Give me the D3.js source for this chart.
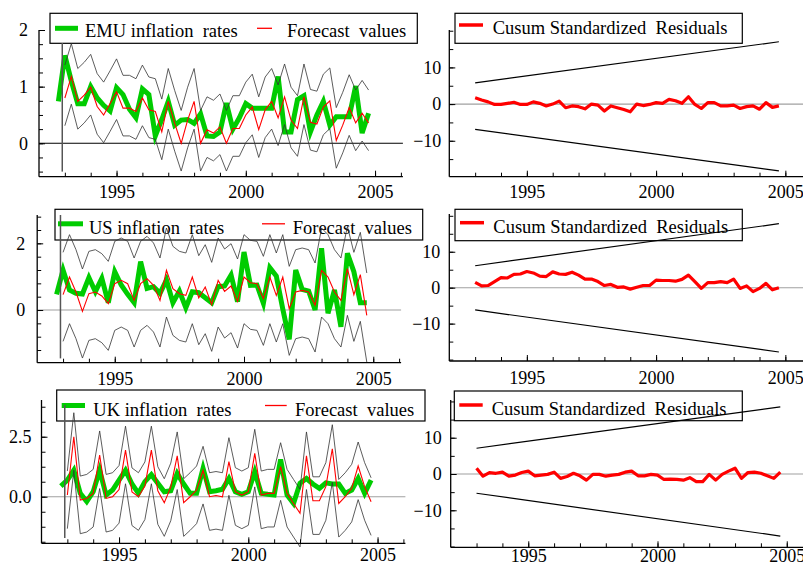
<!DOCTYPE html>
<html>
<head>
<meta charset="utf-8">
<script src="https://cdn.jsdelivr.net/npm/d3@7"></script>
<style>
  body { margin: 0; background: #fff; }
  svg { display: block; }
</style>
</head>
<body>
<div id="chart"></div>
<script>
"use strict";

// Quarterly sample, first actual value is 1992Q4, forecasts start 1993Q1
const firstQuarter = 1992.75;
const xTicksMajor = [1995, 2000, 2005];
const xTicksMinor = d3.range(1993, 2007);

const emuActual = [0.74, 1.55, 1.1, 0.7, 0.7, 1.0, 0.8, 0.67, 0.57, 0.98,
  0.86, 0.6, 0.45, 0.96, 0.86, 0.13, 0.42, 0.74, 0.32, 0.41,
  0.42, 0.35, 0.52, 0.13, 0.12, 0.2, 0.71, 0.25, 0.45, 0.7,
  0.62, 0.62, 0.62, 0.62, 1.18, 0.2, 0.2, 0.77, 0.84, 0.2,
  0.5, 0.74, 0.32, 0.47, 0.47, 0.47, 1.01, 0.18, 0.53];
const emuForecast = [0.8, 1.18, 0.74, 0.85, 0.99, 0.65, 0.5, 0.7, 0.91, 0.62,
  0.62, 0.56, 0.8, 0.59, 0.56, 0.2, 0.74, 0.35, 0.0, 0.41,
  0.74, 0.0, 0.24, 0.18, 0.29, 0.0, 0.26, 0.26, 0.5, 0.64,
  0.24, 0.59, 0.74, 0.45, 0.82, 0.41, 0.26, 0.82, 0.37, 0.34,
  0.64, 0.75, 0.05, 0.32, 0.63, 0.36, 0.53, 0.36];
const emuBandUp = 0.58, emuBandDown = 0.49;

const usActual = [0.47, 1.2, 0.6, 0.5, 0.48, 0.97, 0.55, 0.95, 0.22, 1.15,
  0.75, 0.47, 0.22, 1.45, 0.65, 0.7, 0.5, 0.9, 0.22, 0.57,
  0.07, 0.55, 0.52, 0.37, 0.22, 0.7, 0.72, 1.05, 0.25, 1.74,
  0.74, 0.75, 0.2, 1.27, 1.02, 0.03, -0.88, 1.2, 0.62, 0.57,
  0.0, 1.85, -0.1, 0.6, -0.5, 1.7, 1.15, 0.22, 0.22];
const usForecast = [0.46, 0.99, 0.54, -0.04, 0.49, 0.54, 0.42, 0.19, 0.79, 0.89,
  0.79, 0.29, 0.79, 0.94, 0.74, 0.29, 1.19, 0.64, 0.49, 0.44,
  0.99, 0.36, 0.69, 0.16, 0.89, 0.56, 0.72, 0.26, 0.99, 0.82,
  0.79, 0.34, 0.99, 0.44, 0.99, 0.04, 0.54, 0.59, 0.54, 0.14,
  1.19, 0.99, 0.54, 0.29, 1.24, 0.46, 1.06, -0.16];
const usBandUp = 1.27, usBandDown = 1.4;

const ukActual = [0.44, 0.69, 1.1, 0.14, -0.2, 0.21, 1.1, 0.07, 0.28, 0.69,
  1.1, 0.53, 0.14, 0.63, 0.92, 0.56, 0.21, 0.25, 0.97, 0.53,
  0.14, 0.14, 1.18, 0.21, 0.25, 0.31, 0.76, 0.21, 0.1, 0.21,
  1.04, 0.14, 0.1, 0.07, 1.55, 0.07, -0.28, 0.56, 0.76, 0.53,
  0.35, 0.58, 0.53, 0.53, 0.14, 0.28, 0.76, 0.14, 0.69];
const ukForecast = [0.07, 2.5, -0.14, -0.07, 0.14, 1.74, -0.07, 0.0, 0.3, 1.94,
  0.2, 0.0, 0.45, 1.94, 0.25, -0.25, 0.4, 1.7, -0.25, 0.0,
  0.28, 1.1, 0.0, 0.05, 0.0, 1.46, 0.21, 0.07, 0.21, 1.81,
  0.07, 0.14, 0.14, 1.25, 0.14, -0.28, -0.69, 1.7, -0.17, -0.17,
  0.42, 2.0, -0.28, 0.0, 0.35, 1.28, 0.42, -0.21];
const ukBandUp = 1.0, ukBandDown = 1.4;

// start of forecast period marker, [low, high]
const markerTime = 1992.9;
const emuMarker = [-0.5, 1.77];
const usMarker = [-1.45, 2.85];
const ukMarker = [-1.72, 3.82];

// Cusum of standardized residuals, 1993Q1 .. 2004Q4
const cusumStart = 1993.0;
const emuCusum = [1.7, 1.1, 0.6, -0.1, -0.1, 0.2, 0.5, -0.1, -0.1, 0.6,
  0.2, -0.5, 0, 0.8, -1.0, -0.5, -0.7, -1.3, 0, -0.3,
  -1.9, -0.5, -1.0, -1.5, -2.1, 0, -0.4, -0.1, 0.4, 0.2,
  1.3, 0.9, 0.2, 2.0, -0.1, -1.2, 0.4, 0.4, -0.5, -0.5,
  -0.3, -1.2, -0.7, -0.5, -1.4, 0.4, -0.9, -0.5];
const usCusum = [1.5, 0.5, 0.6, 1.7, 2.8, 2.7, 3.7, 3.8, 4.5, 4.1,
  3.2, 3.1, 4.4, 3.8, 3.7, 4.3, 3.5, 2.4, 2.4, 1.7,
  0.6, 0.9, 0.1, 0.2, -0.4, 0.1, 0.6, 0.6, 2.1, 2.0,
  2.0, 1.8, 2.3, 3.5, 1.7, -0.2, 1.4, 1.4, 1.7, 1.4,
  2.4, -0.2, 0.5, -1.1, -0.2, 1.2, -0.6, 0.0];
const ukCusum = [1.6, -0.6, 0.4, 0.2, 0.5, -0.6, -0.3, 0.4, 0.8, -0.5,
  -0.3, -0.1, 0.5, -1.2, -0.7, 0.2, -0.5, -1.7, -0.1, -0.1,
  -0.6, -0.3, -0.1, 0.5, 0.8, -0.5, -0.5, -0.1, -0.3, -1.5,
  -1.4, -1.5, -1.7, -1.0, -2.1, -2.1, -0.1, -1.7, -0.1, 0.8,
  1.6, -1.2, 0.4, 0.5, 0.2, -0.5, -1.2, 0.5];

// 5% significance bounds, [start, end] from 1993Q1 to 2004Q4
const boundTimes = [1993.0, 2004.75];
const emuBoundUpper = [5.8, 17.0], emuBoundLower = [-6.9, -18.2];
const usBoundUpper = [6.1, 17.8], usBoundLower = [-6.2, -17.9];
const ukBoundUpper = [7.1, 18.5], ukBoundLower = [-5.3, -17.1];

const W = 803, H = 568;
const PX_PER_YEAR = 25.85;
const FONT = "'Liberation Serif', 'Times New Roman', serif";
const GREEN = "#00cc00", RED = "#ff0000";

const svg = d3.select("#chart").append("svg")
  .attr("width", W).attr("height", H)
  .attr("font-family", FONT);

function minorTicks(domain, step) {
  let lo = Math.ceil(domain[0] / step - 1e-9), hi = Math.floor(domain[1] / step + 1e-9);
  return d3.range(lo, hi + 1).map(k => +(k * step).toFixed(4));
}

function drawAxes(g, x, y, p) {
  let yAxisMinor = d3.axisLeft(y).tickValues(minorTicks(y.domain(), p.minorStep))
    .tickSize(-4).tickFormat("");
  let yAxisMajor = d3.axisLeft(y).tickValues(p.major)
    .tickSize(-6).tickPadding(p.labelGap).tickFormat(p.fmt);
  let xAxisMinor = d3.axisBottom(x).tickValues(xTicksMinor).tickSize(-4).tickFormat("");
  let xAxisMajor = d3.axisBottom(x).tickValues(xTicksMajor).tickSize(-6)
    .tickPadding(p.xPad).tickFormat(d3.format("d"));

  [yAxisMinor, yAxisMajor].forEach(function(ax) {
    g.append("g").attr("transform", "translate(" + x(1992) + ",0)").call(ax)
      .call(s => s.select(".domain").remove())
      .attr("font-family", FONT).attr("font-size", 18);
  });
  [xAxisMinor, xAxisMajor].forEach(function(ax) {
    g.append("g").attr("transform", "translate(0," + p.bottom + ")").call(ax)
      .call(s => s.select(".domain").remove())
      .attr("font-family", FONT).attr("font-size", 18);
  });
  g.selectAll(".tick line").attr("stroke", "#000").attr("stroke-width", 1);
  g.selectAll(".tick text").attr("fill", "#000");

  // axis lines
  g.append("line")
    .attr("x1", x(1992)).attr("x2", x(1992))
    .attr("y1", p.top).attr("y2", p.bottom)
    .attr("stroke", "#000").attr("stroke-width", 1.3);
  g.append("line")
    .attr("x1", x(1992)).attr("x2", p.axisEnd)
    .attr("y1", p.bottom).attr("y2", p.bottom)
    .attr("stroke", "#000").attr("stroke-width", 1.3);
}

function drawLegend(g, lg, items) {
  g.append("rect")
    .attr("x", lg.x0).attr("y", lg.y0)
    .attr("width", lg.x1 - lg.x0).attr("height", lg.y1 - lg.y0)
    .attr("fill", "none").attr("stroke", "#000").attr("stroke-width", 1.2);
  items.forEach(function(it) {
    g.append("line")
      .attr("x1", it.pos[0]).attr("x2", it.pos[1])
      .attr("y1", lg.sy).attr("y2", lg.sy)
      .attr("stroke", it.color).attr("stroke-width", it.width);
    g.append("text")
      .attr("x", it.pos[2]).attr("y", lg.base)
      .attr("font-size", 18.5)
      .style("white-space", "pre")
      .text(it.label);
  });
}

function drawInflationPanel(p) {
  let x = d3.scaleLinear().domain([1992, 2006]).range([p.left, p.left + 14 * PX_PER_YEAR]);
  let y = d3.scaleLinear().domain(p.yDomain).range([p.bottom, p.top]);
  let g = svg.append("g");
  p.axisEnd = x(2006) + 2;

  drawLegend(g, p.legend, [
    {pos: p.legend.aX, color: GREEN, width: 5, label: p.label},
    {pos: p.legend.fX, color: RED, width: 1.3, label: "Forecast  values"}
  ]);

  g.append("line")
    .attr("x1", x(1992)).attr("x2", p.axisEnd)
    .attr("y1", y(0)).attr("y2", y(0))
    .attr("stroke", p.zeroColor).attr("stroke-width", 1.1);

  let tActual = (d, i) => x(firstQuarter + i / 4);
  let tForecast = (d, i) => x(firstQuarter + (i + 1) / 4);

  g.append("path").datum(p.actual)
    .attr("d", d3.line().x(tActual).y(d => y(d)))
    .attr("fill", "none").attr("stroke", GREEN).attr("stroke-width", 5)
    .attr("stroke-linejoin", "miter");

  [p.bandUp, -p.bandDown].forEach(function(off) {
    g.append("path").datum(p.forecast)
      .attr("d", d3.line().x(tForecast).y(d => y(d + off)))
      .attr("fill", "none").attr("stroke", "#333").attr("stroke-width", 0.8);
  });

  g.append("path").datum(p.forecast)
    .attr("d", d3.line().x(tForecast).y(d => y(d)))
    .attr("fill", "none").attr("stroke", RED).attr("stroke-width", 1.1);

  g.append("line")
    .attr("x1", x(markerTime)).attr("x2", x(markerTime))
    .attr("y1", y(p.marker[0])).attr("y2", y(p.marker[1]))
    .attr("stroke", "#555").attr("stroke-width", 1.5);

  drawAxes(g, x, y, p);
}

function drawCusumPanel(p) {
  let x = d3.scaleLinear().domain([1992, 2006]).range([p.left, p.left + 14 * PX_PER_YEAR]);
  let y = d3.scaleLinear().domain(p.yDomain).range([p.bottom, p.top]);
  let g = svg.append("g");
  p.axisEnd = W + 5;

  drawLegend(g, p.legend, [
    {pos: p.legend.cX, color: RED, width: 3.5, label: "Cusum Standardized  Residuals"}
  ]);

  g.append("line")
    .attr("x1", x(1992)).attr("x2", p.axisEnd)
    .attr("y1", y(0)).attr("y2", y(0))
    .attr("stroke", "#a0a0a0").attr("stroke-width", 1.1);

  [p.upper, p.lower].forEach(function(b) {
    g.append("path").datum(b)
      .attr("d", d3.line().x((d, i) => x(boundTimes[i])).y(d => y(d)))
      .attr("fill", "none").attr("stroke", "#000").attr("stroke-width", 1.2);
  });

  g.append("path").datum(p.cusum)
    .attr("d", d3.line().x((d, i) => x(cusumStart + i / 4)).y(d => y(d)))
    .attr("fill", "none").attr("stroke", RED).attr("stroke-width", 3.2)
    .attr("stroke-linejoin", "round");

  drawAxes(g, x, y, p);
}

const leftPanels = [
  {actual: emuActual, forecast: emuForecast, bandUp: emuBandUp, bandDown: emuBandDown,
   marker: emuMarker, label: "EMU inflation  rates", zeroColor: "#000",
   left: 39, top: 30, bottom: 176.7, yDomain: [-0.59, 2.0], xPad: 9,
   major: [0, 1, 2], minorStep: 0.25, fmt: d3.format("d"), labelGap: 11,
   legend: {x0: 50, y0: 13.3, x1: 417.3, y1: 43.3, sy: 28.3, base: 37.3,
            aX: [55, 78, 85], fX: [257, 272, 287]}},
  {actual: usActual, forecast: usForecast, bandUp: usBandUp, bandDown: usBandDown,
   marker: usMarker, label: "US inflation  rates", zeroColor: "#a0a0a0",
   left: 37.2, top: 215, bottom: 362.7, yDomain: [-1.58, 2.85], xPad: 10,
   major: [0, 2], minorStep: 0.4, fmt: d3.format("d"), labelGap: 12,
   legend: {x0: 55, y0: 209.3, x1: 422.7, y1: 240, sy: 223.8, base: 234,
            aX: [58, 83, 89], fX: [262, 285, 292.7]}},
  {actual: ukActual, forecast: ukForecast, bandUp: ukBandUp, bandDown: ukBandDown,
   marker: ukMarker, label: "UK inflation  rates", zeroColor: "#a0a0a0",
   left: 41.5, top: 400, bottom: 543.3, yDomain: [-1.94, 4.03], xPad: 5,
   major: [0, 2.5], minorStep: 0.625, fmt: d3.format(".1f"), labelGap: 10,
   legend: {x0: 56.7, y0: 390, x1: 425, y1: 421, sy: 405.5, base: 415.7,
            aX: [61.7, 85, 93.3], fX: [265, 286.7, 295]}}
];

const rightPanels = [
  {cusum: emuCusum, upper: emuBoundUpper, lower: emuBoundLower,
   left: 449.3, top: 30, bottom: 176.7, yDomain: [-19.8, 20.2], xPad: 9,
   major: [-10, 0, 10], minorStep: 5, fmt: d3.format("d"), labelGap: 8,
   legend: {x0: 455, y0: 13.3, x1: 742.3, y1: 43.3, sy: 25, base: 34, cX: [459, 483, 492.7]}},
  {cusum: usCusum, upper: usBoundUpper, lower: usBoundLower,
   left: 449.3, top: 214, bottom: 361, yDomain: [-20.4, 20.5], xPad: 10,
   major: [-10, 0, 10], minorStep: 5, fmt: d3.format("d"), labelGap: 9,
   legend: {x0: 455, y0: 209.3, x1: 742.3, y1: 240.7, sy: 222.7, base: 233.3, cX: [460, 484, 493.3]}},
  {cusum: ukCusum, upper: ukBoundUpper, lower: ukBoundLower,
   left: 450.7, top: 400, bottom: 547.3, yDomain: [-20.2, 20.4], xPad: 2,
   major: [-10, 0, 10], minorStep: 5, fmt: d3.format("d"), labelGap: 9,
   legend: {x0: 454.3, y0: 391, x1: 742.3, y1: 420.7, sy: 405, base: 415, cX: [459.3, 482.7, 491.7]}}
];

leftPanels.forEach(drawInflationPanel);
rightPanels.forEach(drawCusumPanel);
</script>
</body>
</html>
